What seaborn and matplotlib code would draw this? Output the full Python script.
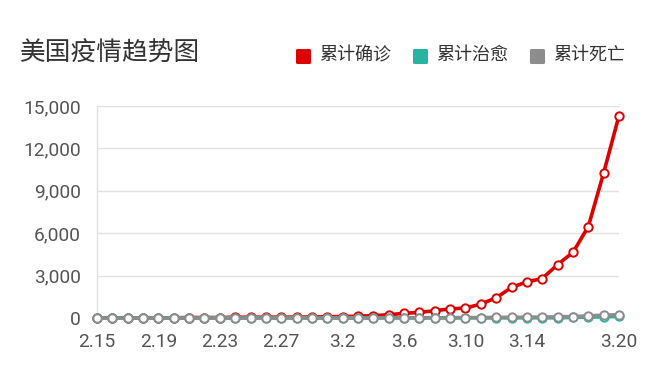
import matplotlib
matplotlib.use("Agg")
import matplotlib.pyplot as plt
import seaborn as sns
import pandas as pd
from matplotlib.lines import Line2D
from matplotlib.markers import MarkerStyle

# ---------------- data ----------------
dates = ['2.15', '2.16', '2.17', '2.18', '2.19', '2.20', '2.21', '2.22', '2.23', '2.24',
         '2.25', '2.26', '2.27', '2.28', '2.29', '3.1', '3.2', '3.3', '3.4', '3.5',
         '3.6', '3.7', '3.8', '3.9', '3.10', '3.11', '3.12', '3.13', '3.14', '3.15',
         '3.16', '3.17', '3.18', '3.19', '3.20']
confirmed = [15, 15, 15, 15, 15, 15, 35, 35, 35, 53,
             53, 59, 60, 62, 70, 88, 105, 125, 165, 230,
             330, 400, 510, 650, 700, 984, 1430, 2160, 2560, 2790,
             3780, 4640, 6470, 10260, 14320]
cured = [3, 3, 3, 3, 3, 3, 5, 5, 6, 6,
         6, 6, 6, 7, 7, 7, 7, 7, 8, 8,
         8, 8, 8, 8, 8, 12, 12, 12, 15, 15,
         17, 40, 60, 80, 110]
deaths = [0, 0, 0, 0, 0, 0, 0, 0, 0, 0,
          0, 0, 0, 0, 1, 2, 6, 9, 11, 12,
          14, 17, 19, 22, 28, 31, 40, 47, 57, 62,
          85, 100, 150, 200, 230]
series_names = ['累计确诊', '累计治愈', '累计死亡']
tick_labels = ['2.15', '2.19', '2.23', '2.27', '3.2', '3.6', '3.10', '3.14', '3.20']
y_ticks = [0, 3000, 6000, 9000, 12000, 15000]
title = '美国疫情趋势图'

colors = ['#dc0000', '#26b4a0', '#8c8c8c']

# ---------------- style ----------------
sns.set_theme(style="white")
plt.rcParams['font.family'] = ['Roboto', 'Noto Sans CJK SC', 'DejaVu Sans']

fig = plt.figure(figsize=(6.6, 3.84), dpi=100)
ax = fig.add_axes([97 / 660, 66 / 384, 522 / 660, 212 / 384])

idx = list(range(len(dates)))
all_series = [confirmed, cured, deaths]
for name, vals, col in zip(series_names, all_series, colors):
    df = pd.DataFrame({'idx': idx, 'value': vals})
    sns.lineplot(data=df, x='idx', y='value', ax=ax, color=col, linewidth=2.6,
                 marker='o', markersize=6, markerfacecolor='white',
                 markeredgecolor=col, markeredgewidth=1.4, legend=False)

for ln in ax.get_lines():
    ln.set_clip_on(False)
    ln.set_zorder(3)
    ln.set_solid_joinstyle('round')

ax.set_xlim(0, len(dates) - 1)
ax.set_ylim(0, 15000)

tick_pos = [dates.index(t) for t in tick_labels]
ax.set_xticks(tick_pos)
ax.set_xticklabels(tick_labels)
ax.set_yticks(y_ticks)
ax.set_yticklabels([f'{v:,}' for v in y_ticks])
ax.tick_params(axis='x', length=0, pad=11, labelsize=13.8, labelcolor='#555555')
ax.tick_params(axis='y', length=0, pad=11.5, labelsize=13.8, labelcolor='#555555')
ax.set_xlabel('')
ax.set_ylabel('')

ax.grid(False)
for y in y_ticks[1:]:
    ax.axhline(y, color='#e0e0e0', linewidth=1.0, zorder=0)
for s in ['top', 'right', 'bottom']:
    ax.spines[s].set_visible(False)
ax.spines['left'].set_color('#e0e0e0')
ax.spines['left'].set_linewidth(1.0)

# title
fig.text(20 / 660, 1 - 53.5 / 384, title, fontsize=18.5, color='#333333',
         va='center', ha='left')

# legend
leg_sq_x = [302.5, 419.5, 536.5]
leg_txt_x = [319, 436, 553]
for name, col, sx, tx in zip(series_names, colors, leg_sq_x, leg_txt_x):
    fig.add_artist(Line2D([sx / 660], [1 - 56 / 384], transform=fig.transFigure,
                          marker=MarkerStyle('s', joinstyle='round'), markersize=8.5,
                          markerfacecolor=col, markeredgecolor=col,
                          markeredgewidth=2.2, linestyle='none'))
    fig.text(tx / 660, 1 - 55 / 384, name, fontsize=13, color='#333333',
             va='center', ha='left')

fig.savefig('out.png', dpi=100)
